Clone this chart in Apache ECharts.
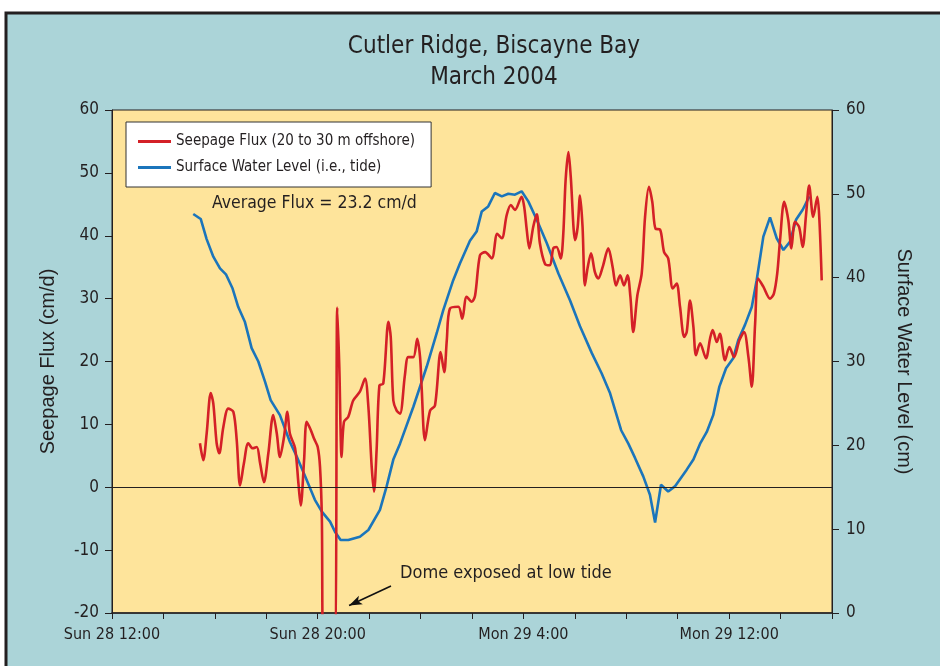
<!DOCTYPE html>
<html>
<head>
<meta charset="utf-8">
<script src="https://cdn.jsdelivr.net/npm/echarts@6/dist/echarts.min.js"></script>
<style>
html, body { margin: 0; padding: 0; background: #fff; }
#main { width: 940px; height: 666px; }
</style>
</head>
<body>
<div id="main"></div>
<script>
var myChart = echarts.init(document.getElementById('main'));

// hours after Sun 28 12:00
var xTickLabels = { 0: 'Sun 28 12:00', 8: 'Sun 28 20:00', 16: 'Mon 29 4:00', 24: 'Mon 29 12:00' };

// seepage flux (cm/d) - hours / value
var fluxHours = [3.42, 3.55, 3.68, 3.84, 3.94, 4.07, 4.17, 4.33, 4.52, 4.72, 4.85, 4.98, 5.13, 5.30, 5.47, 5.63, 5.76, 5.91, 6.08, 6.27,
    6.41, 6.53, 6.69, 6.82, 6.92, 7.12, 7.25, 7.34, 7.47, 7.57, 7.73, 7.86, 8.00, 8.09, 8.16, 8.22, 8.65, 8.76, 8.84, 8.93,
    9.02, 9.19, 9.38, 9.64, 9.84, 9.97, 10.10, 10.19, 10.29, 10.40, 10.55, 10.75, 10.84, 10.94, 11.07, 11.20, 11.39, 11.52, 11.72, 11.87,
    11.98, 12.04, 12.17, 12.37, 12.56, 12.78, 12.92, 13.02, 13.14, 13.47, 13.62, 13.79, 13.99, 14.12, 14.31, 14.51, 14.77, 14.98, 15.16, 15.35,
    15.51, 15.67, 15.93, 16.03, 16.13, 16.23, 16.38, 16.52, 16.64, 16.84, 17.03, 17.16, 17.29, 17.45, 17.55, 17.64, 17.75, 17.84, 18.01, 18.11,
    18.20, 18.30, 18.39, 18.50, 18.63, 18.78, 18.91, 19.08, 19.30, 19.47, 19.60, 19.76, 19.91, 20.05, 20.16, 20.27, 20.43, 20.60, 20.73, 20.88,
    21.01, 21.14, 21.31, 21.47, 21.63, 21.81, 21.96, 22.09, 22.25, 22.35, 22.48, 22.61, 22.71, 22.87, 23.10, 23.26, 23.36, 23.52, 23.64, 23.84,
    24.01, 24.19, 24.40, 24.58, 24.75, 24.88, 25.01, 25.13, 25.33, 25.59, 25.74, 25.87, 25.98, 26.14, 26.30, 26.42, 26.56, 26.72, 26.86, 26.99,
    27.11, 27.27, 27.43, 27.51, 27.60];
var fluxValues = [7.0, 4.3, 8.5, 15.0, 13.3, 7.0, 5.4, 9.6, 12.5, 12.0, 7.5, 0.3, 3.8, 7.0, 6.2, 6.4, 3.8, 0.8, 5.4, 11.5,
    8.5, 4.8, 8.0, 12.0, 8.5, 6.2, 0.6, -2.9, 4.3, 10.4, 9.1, 7.7, 6.4, 3.2, -4.7, -25, -25, 28.6, 19.1, 4.8,
    10.4, 11.2, 13.8, 15.2, 17.3, 12.8, 3.2, -0.7, 5.9, 16.2, 16.5, 26.3, 23.9, 13.8, 12.2, 11.7, 17.8, 20.7, 20.7, 23.6,
    20.7, 16.0, 7.5, 12.2, 13.0, 21.5, 18.3, 23.4, 28.4, 28.7, 26.8, 30.3, 29.5, 30.5, 36.9, 37.4, 36.4, 40.3, 39.6, 43.3,
    44.9, 44.1, 46.2, 44.6, 40.9, 38.0, 41.4, 43.4, 38.8, 35.5, 35.3, 38.0, 38.2, 36.4, 40.3, 48.8, 53.3, 49.4, 39.3, 41.4,
    46.4, 41.4, 32.1, 35.0, 37.2, 34.2, 33.2, 35.0, 38.0, 35.0, 32.1, 33.7, 32.1, 33.7, 30.3, 24.7, 30.5, 34.0, 43.0, 47.8,
    45.4, 41.1, 41.0, 37.4, 36.4, 31.6, 32.4, 28.7, 23.9, 24.7, 29.7, 25.5, 21.0, 22.9, 20.5, 23.7, 25.0, 23.1, 24.4, 20.2,
    22.3, 20.7, 23.4, 24.7, 20.7, 16.0, 26.0, 33.2, 31.9, 30.0, 30.8, 34.0, 39.3, 45.4, 42.5, 38.0, 42.2, 41.4, 38.2, 43.3,
    48.0, 43.0, 46.2, 42.5, 32.9];

// surface water level (cm) - hours / value
var tideHours = [3.16, 3.45, 3.68, 3.94, 4.20, 4.43, 4.69, 4.91, 5.17, 5.43, 5.69, 5.95, 6.17, 6.53, 6.92, 7.18, 7.51, 7.89, 8.16, 8.48,
    8.67, 8.89, 9.19, 9.64, 9.97, 10.42, 10.68, 10.94, 11.20, 11.72, 12.24, 12.63, 12.88, 13.27, 13.53, 13.92, 14.18, 14.38, 14.63, 14.89,
    15.16, 15.41, 15.67, 15.93, 16.19, 16.52, 16.91, 17.36, 17.81, 18.20, 18.66, 19.04, 19.37, 19.80, 20.08, 20.34, 20.66, 20.92, 21.12, 21.35,
    21.63, 21.89, 22.35, 22.61, 22.87, 23.13, 23.38, 23.62, 23.88, 24.16, 24.36, 24.62, 24.88, 25.07, 25.33, 25.59, 25.85, 26.11, 26.37, 26.60,
    26.86, 27.12];
var tideValues = [47.6, 47.0, 44.6, 42.5, 41.1, 40.4, 38.7, 36.5, 34.7, 31.6, 30.0, 27.6, 25.4, 23.6, 20.4, 18.7, 16.3, 13.5, 12.1, 10.9,
    9.7, 8.7, 8.7, 9.1, 9.9, 12.3, 15.1, 18.3, 20.2, 24.6, 29.4, 33.4, 36.1, 39.7, 41.7, 44.4, 45.5, 47.9, 48.5, 50.1,
    49.7, 50.0, 49.9, 50.3, 49.1, 46.9, 44.1, 40.5, 37.3, 34.2, 31.0, 28.6, 26.2, 21.8, 20.2, 18.5, 16.3, 14.1, 10.8, 15.3,
    14.5, 15.1, 17.1, 18.3, 20.2, 21.6, 23.6, 27.0, 29.2, 30.4, 32.6, 34.4, 36.5, 39.7, 44.9, 47.2, 44.7, 43.3, 44.3, 46.9,
    48.1, 49.7];

var fluxData = fluxHours.map(function (h, i) { return [h, fluxValues[i]]; });
var tideData = tideHours.map(function (h, i) { return [h, tideValues[i]]; });

var narrow = "'Liberation Sans Narrow', 'DejaVu Sans Condensed', 'Roboto', sans-serif";
var regular = "'Liberation Sans', 'Arial', sans-serif";
var ink = '#231f20';

option = {
    animation: false,
    backgroundColor: '#ffffff',
    title: {
        text: 'Cutler Ridge, Biscayne Bay\nMarch 2004',
        left: 489,
        top: 26,
        textAlign: 'center',
        textStyle: { fontFamily: narrow, fontSize: 24, fontWeight: 'normal', color: ink, lineHeight: 31 }
    },
    graphic: [
        {
            type: 'rect', z: -10, silent: true,
            shape: { x: 6, y: 13, width: 960, height: 680 },
            style: { fill: '#abd4d8', stroke: '#231f20', lineWidth: 3 }
        },
        {
            type: 'text', left: 212, top: 194, z: 10,
            style: { text: 'Average Flux = 23.2 cm/d', fontFamily: narrow, fontSize: 17.5, fill: ink }
        },
        {
            type: 'text', left: 400, top: 564, z: 10,
            style: { text: 'Dome exposed at low tide', fontFamily: narrow, fontSize: 18, fill: ink }
        }
    ],
    legend: {
        orient: 'vertical',
        left: 126,
        top: 122,
        data: ['Seepage Flux (20 to 30 m offshore)', 'Surface Water Level (i.e., tide)'],
        backgroundColor: '#ffffff',
        borderColor: '#333',
        borderWidth: 1,
        padding: [12, 16, 12, 12],
        itemGap: 11,
        itemWidth: 33,
        itemHeight: 3,
        icon: 'rect',
        textStyle: { fontFamily: narrow, fontSize: 15, color: ink }
    },
    grid: {
        left: 112,
        right: 108,
        top: 110,
        bottom: 53,
        show: true,
        backgroundColor: '#fee49b',
        borderColor: ink,
        borderWidth: 1
    },
    xAxis: {
        type: 'value',
        min: 0,
        max: 28,
        interval: 2,
        splitLine: { show: false },
        axisLine: { onZero: false, lineStyle: { color: ink, width: 1.5 } },
        axisTick: { length: 6, lineStyle: { color: ink } },
        axisLabel: {
            margin: 14,
            fontFamily: narrow,
            fontSize: 16,
            color: ink,
            showMinLabel: true,
            showMaxLabel: true,
            formatter: function (v) { return xTickLabels[v] || ''; }
        }
    },
    yAxis: [
        {
            type: 'value',
            min: -20,
            max: 60,
            interval: 10,
            name: 'Seepage Flux (cm/d)',
            nameLocation: 'middle',
            nameGap: 54,
            nameTextStyle: { fontFamily: regular, fontSize: 20, color: ink },
            splitLine: { show: false },
            axisLine: { show: true, lineStyle: { color: ink } },
            axisTick: { show: true, length: 7, lineStyle: { color: ink } },
            axisLabel: { margin: 13, fontFamily: narrow, fontSize: 17, color: ink }
        },
        {
            type: 'value',
            min: 0,
            max: 60,
            interval: 10,
            position: 'right',
            name: 'Surface Water Level (cm)',
            nameLocation: 'middle',
            nameGap: 62,
            nameRotate: -90,
            nameTextStyle: { fontFamily: regular, fontSize: 20, color: ink },
            splitLine: { show: false },
            axisLine: { show: true, lineStyle: { color: ink } },
            axisTick: { show: true, length: 7, lineStyle: { color: ink } },
            axisLabel: { margin: 14, fontFamily: narrow, fontSize: 17, color: ink }
        }
    ],
    series: [
        {
            name: 'Seepage Flux (20 to 30 m offshore)',
            type: 'line',
            yAxisIndex: 0,
            data: fluxData,
            showSymbol: false,
            smooth: 0.3,
            clip: true,
            color: '#d42027',
            lineStyle: { color: '#d42027', width: 2.6 },
            z: 3,
            markLine: {
                silent: true,
                symbol: ['none', 'none'],
                label: { show: false },
                animation: false,
                data: [
                    { yAxis: 0, lineStyle: { color: ink, width: 1.2, type: 'solid' } },
                    [
                        { coord: [10.85, -15.7], symbol: 'none', lineStyle: { color: '#111', width: 1.6, type: 'solid' } },
                        { coord: [9.22, -18.8], symbol: 'arrow', symbolSize: [7, 13] }
                    ]
                ]
            }
        },
        {
            name: 'Surface Water Level (i.e., tide)',
            type: 'line',
            yAxisIndex: 1,
            data: tideData,
            showSymbol: false,
            color: '#1b75bb',
            lineStyle: { color: '#1b75bb', width: 2.6 },
            z: 2
        }
    ]
};

myChart.setOption(option);
</script>
</body>
</html>
